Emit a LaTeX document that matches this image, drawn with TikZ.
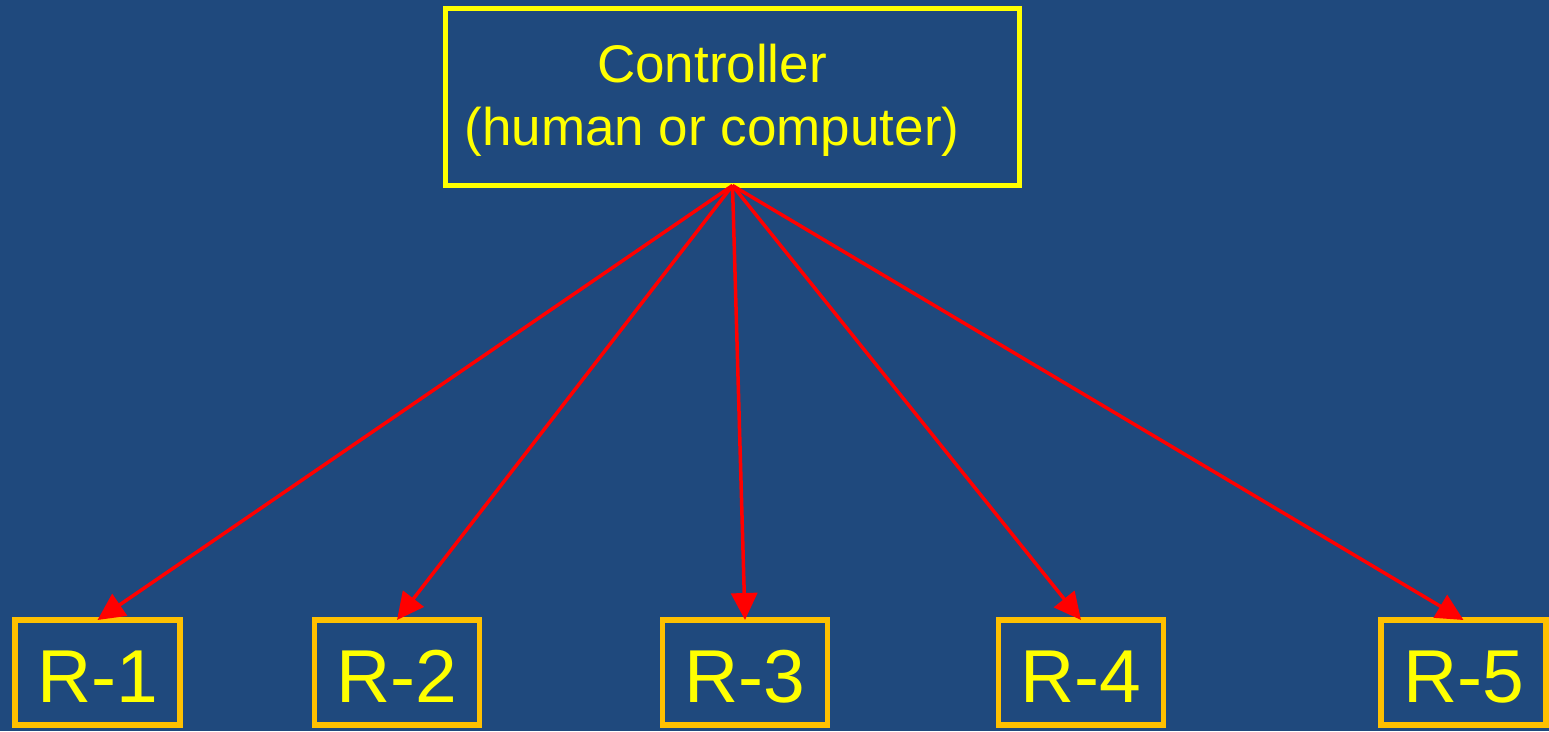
\documentclass[tikz,border=0pt]{standalone}
\usepackage{xcolor}
\usepackage{fontspec}
\setmainfont{Liberation Sans}
\usepackage{tikz}
\usetikzlibrary{arrows.meta}

\definecolor{slideblue}{HTML}{1F497D}
\definecolor{ctrlyellow}{HTML}{FFFF00}
\definecolor{robotorange}{HTML}{FFC000}
\definecolor{linkred}{HTML}{FF0000}

\begin{document}
\begin{tikzpicture}[
    x=1pt, y=-1pt,
    controller/.style={rectangle, draw=ctrlyellow, line width=5pt, minimum width=574pt, minimum height=177pt, inner sep=0pt, outer sep=0pt},
    ctrltext/.style={text=ctrlyellow, align=center, inner sep=0pt, font=\fontsize{53}{63}\selectfont},
    robot/.style={rectangle, draw=robotorange, line width=5.5pt, minimum width=165pt, minimum height=105pt, inner sep=0pt, outer sep=0pt, text=ctrlyellow, text height=59pt, text depth=0pt, font=\fontsize{75}{90}\selectfont},
    command/.style={draw=linkred, line width=3.5pt, -{Triangle[length=27pt, width=26pt]}}
]
\useasboundingbox[fill=slideblue] (0,0) rectangle (1549,731);

\node[controller] (ctrl) at (732.5,97) {};
\node[ctrltext] (ctrllabel) at (712,100) {Controller\\(human or computer)};

\node[robot] (r1) at (97.5,672.5) {R-1};
\node[robot] (r2) at (397,672.5) {R-2};
\node[robot] (r3) at (745,672.5) {R-3};
\node[robot] (r4) at (1081,672.5) {R-4};
\node[robot] (r5) at (1463.5,672.5) {R-5};

% every robot gets its own line from the controller
\draw[command] (ctrl.south) -- (r1.north);
\draw[command] (ctrl.south) -- (r2.north);
\draw[command] (ctrl.south) -- (r3.north);
\draw[command] (ctrl.south) -- (r4.north);
\draw[command] (ctrl.south) -- (r5.north);
\end{tikzpicture}
\end{document}
